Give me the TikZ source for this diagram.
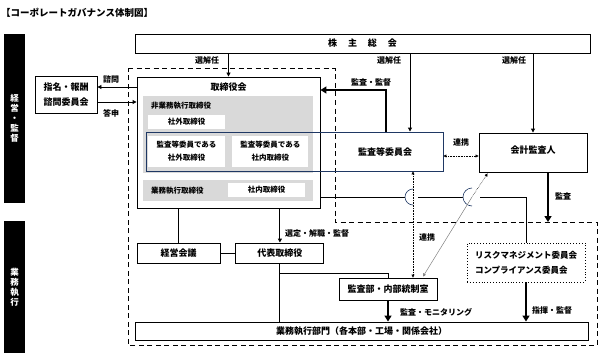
\documentclass[tikz,border=0pt]{standalone}
\usepackage{fontspec}
\setmainfont{Noto Sans CJK JP}
\usetikzlibrary{arrows.meta, positioning, calc}

\definecolor{panelgray}{RGB}{217,217,217}
\definecolor{navyline}{RGB}{31,56,100}

\begin{document}
\begin{tikzpicture}[
    x=1pt, y=-1pt,
    box/.style={draw, line width=0.9pt, inner sep=0pt, align=center, font=\fontsize{9}{15}\selectfont\bfseries},
    panel/.style={fill=panelgray, inner sep=0pt},
    wbox/.style={fill=white, inner sep=0pt, align=center, font=\fontsize{7.5}{13}\selectfont\bfseries},
    sub/.style={inner sep=0pt, anchor=west, font=\fontsize{7.5}{9}\selectfont\bfseries},
    lbl/.style={inner sep=0pt, font=\fontsize{8}{9}\selectfont\bfseries},
    sidebar/.style={fill=black, text=white, inner sep=0pt, minimum width=21pt, align=center, font=\fontsize{8.5}{10}\selectfont\bfseries},
    conn/.style={line width=0.9pt},
    arr/.style={conn, -{Triangle[length=4pt, width=4pt]}},
    bigarr/.style={line width=2.4pt, -{Triangle[length=6pt, width=7pt]}},
    link/.style={line width=0.6pt, densely dotted, {Triangle[length=3pt, width=3pt]}-{Triangle[length=3pt, width=3pt]}},
    hop/.style={line width=0.6pt, draw=navyline},
    frame/.style={line width=1pt, dash pattern=on 5pt off 3.5pt}
]
\useasboundingbox (0,0) rectangle (600,353);

% title and side bars
\node[anchor=west, inner sep=0pt, font=\fontsize{9.5}{10}\selectfont\bfseries] (title) at (1,13) {【コーポレートガバナンス体制図】};
\node[sidebar, minimum height=169pt] (barA) at (14.5,118.5) {経\\営\\・\\監\\督};
\node[sidebar, minimum height=133pt] (barB) at (14.5,287) {業\\務\\執\\行};

% dashed frame
\draw[frame] (128,69) -- (335,69) -- (335,222) -- (597,222) -- (597,345) -- (128,345) -- cycle;
\coordinate (kansaend) at (548,222);

% shareholders
\node[box, minimum width=455pt, minimum height=19pt] (kabu) at (362.5,43.5) {株\hspace{11pt}主\hspace{11pt}総\hspace{11pt}会};

% board of directors
\node[box, minimum width=183pt, minimum height=131pt] (tori) at (228.5,142.5) {};
\node[lbl, font=\fontsize{9}{10}\selectfont\bfseries] (toriname) at (228.5,87) {取締役会};
\node[panel, minimum width=170pt, minimum height=77pt] (hi) at (228,134.5) {};
\node[sub] (hiname) at (151,106) {非業務執行取締役};
\node[wbox, minimum width=77pt, minimum height=14pt] (shagai) at (186.5,122) {社外取締役};
\node[wbox, minimum width=77pt, minimum height=31pt] (kgai) at (186.5,151.5) {監査等委員である\\社外取締役};
\node[wbox, minimum width=76pt, minimum height=31pt, right=7pt of kgai] (knai) {監査等委員である\\社内取締役};
\node[panel, minimum width=170pt, minimum height=21pt] (gyo) at (228,190) {};
\node[sub] (gyoname) at (151,191) {業務執行取締役};
\node[wbox, minimum width=77pt, minimum height=14pt] (shanai) at (266.5,190) {社内取締役};

% audit & supervisory committee
\node[draw=navyline, line width=0.9pt, minimum width=297pt, minimum height=39pt, inner sep=0pt] (kansatou) at (294.5,151.5) {};
\node[lbl, font=\fontsize{9}{10}\selectfont\bfseries] (kansaname) at (385,152) {監査等委員会};

\node[box, minimum width=62pt, minimum height=37pt] (shimei) at (66,94.5) {指名・報酬\\諮問委員会};
\node[box, minimum width=108pt, minimum height=39pt] (kaikei) at (533,152.5) {\raisebox{5pt}{会計監査人}};

% execution side
\node[box, minimum width=83pt, minimum height=20pt] (keiei) at (178.5,253) {経営会議};
\node[box, minimum width=88pt, minimum height=20pt, right=15pt of keiei] (daihyo) {代表取締役};
\node[box, minimum width=98pt, minimum height=22pt] (kansabu) at (388,289) {監査部・内部統制室};
\node[box, dotted, minimum width=118pt, minimum height=39pt, align=left, font=\fontsize{8.5}{15}\selectfont\bfseries] (risk) at (526,262.5) {リスクマネジメント委員会\\コンプライアンス委員会};
\node[box, minimum width=453pt, minimum height=18pt] (gyomubu) at (361.5,331) {業務執行部門（各本部・工場・関係会社）};

% shareholders -> elections
\draw[arr] (kabu.south -| tori.north) -- (tori.north);
\draw[arr] (410,0 |- kabu.south) -- (410,0 |- kansatou.north);
\draw[arr] (kabu.south -| kaikei.north) -- (kaikei.north);
\node[lbl] (l1) at (207,60) {選解任};
\node[lbl] (l2) at (389,60) {選解任};
\node[lbl] (l3) at (514,60) {選解任};

\draw[bigarr] (386,0 |- kansatou.north) |- (tori.east |- 0,90);
\node[lbl] (l4) at (371,82) {監査・監督};

\draw[arr] (tori.west |- 0,87) -- (shimei.east |- 0,87);
\draw[arr] (shimei.east |- 0,102) -- (tori.west |- 0,102);
\node[lbl] (l5) at (111,79) {諮問};
\node[lbl] (l6) at (111,113) {答申};

\draw[link] (kansatou.east |- 0,156) -- (kaikei.west |- 0,156);
\node[lbl] (l7) at (461,142) {連携};

\draw[bigarr] (kaikei.south -| kansaend) -- (kansaend);
\node[lbl] (l8) at (563,196) {監査};

% board -> risk committees, hopping over links
\coordinate (hop1) at (413,197);
\coordinate (hop2) at (472,197);
\draw[conn] (tori.east |- hop1) -- ($(hop1)+(-8,0)$);
\draw[hop] ($(hop1)+(0,-8)$) arc[start angle=90, end angle=270, radius=8pt];
\draw[conn] ($(hop1)+(5,0)$) -- ($(hop2)+(-9,0)$);
\draw[hop] ($(hop2)+(0,-9)$) arc[start angle=90, end angle=270, radius=9pt];
\draw[conn] ($(hop2)+(8,0)$) -| (risk.north);

\draw[link] (hop1 |- kansatou.south) -- (hop1 |- kansabu.north);
\node[lbl] (l9) at (427,237) {連携};
\draw[line width=0.5pt, densely dotted, {Triangle[length=3pt, width=3pt]}-] ($(kaikei.south west)+(9,1)$) -- (hop2);
\draw[line width=0.5pt, gray, -{Triangle[length=3pt, width=3pt]}] (hop2) -- ($(kansabu.north)+(35,-1)$);

% board -> executives
\draw[conn] (tori.south -| keiei.north) -- (keiei.north);
\draw[arr] (tori.south -| daihyo.north) -- (daihyo.north);
\node[lbl, anchor=west] (l10) at (285,233) {選定・解職・監督};
\draw[conn] (keiei) -- (daihyo);
\draw[conn] (daihyo.south) -- (daihyo.south |- gyomubu.north);
\draw[conn] ($(daihyo.south)+(0,10)$) -| (kansabu.north);

\draw[bigarr] (kansabu.south) -- (kansabu.south |- gyomubu.north);
\node[lbl, anchor=west] (l11) at (400,312) {監査・モニタリング};
\draw[bigarr] (risk.south) -- (risk.south |- gyomubu.north);
\node[lbl, anchor=west] (l12) at (532,310) {指揮・監督};
\end{tikzpicture}
\end{document}
